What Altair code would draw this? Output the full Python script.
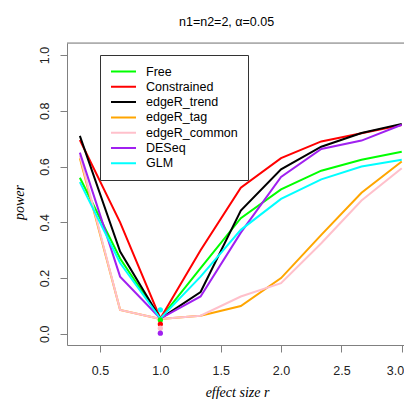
import altair as alt
import pandas as pd

# ---- data ----
effect_size = [1/3, 2/3, 1.0, 4/3, 5/3, 2.0, 7/3, 8/3, 3.0]
methods = ["Free", "Constrained", "edgeR_trend", "edgeR_tag", "edgeR_common", "DESeq", "GLM"]
method_colors = ["#00ff00", "#ff0000", "#000000", "#ffa500", "#ffc0cb", "#a020f0", "#00ffff"]

free         = [0.560, 0.270, 0.055, 0.236, 0.415, 0.518, 0.585, 0.624, 0.653]
constrained  = [0.695, 0.400, 0.055, 0.300, 0.524, 0.630, 0.690, 0.719, 0.749]
edger_trend  = [0.710, 0.295, 0.055, 0.150, 0.442, 0.590, 0.671, 0.720, 0.753]
edger_tag    = [0.630, 0.086, 0.053, 0.065, 0.100, 0.200, 0.355, 0.506, 0.618]
edger_common = [0.640, 0.086, 0.053, 0.065, 0.134, 0.182, 0.325, 0.478, 0.594]
deseq        = [0.650, 0.205, 0.055, 0.134, 0.363, 0.563, 0.663, 0.693, 0.750]
glm          = [0.544, 0.254, 0.055, 0.205, 0.373, 0.484, 0.554, 0.600, 0.624]
series = [free, constrained, edger_trend, edger_tag, edger_common, deseq, glm]

# type I error dots at r = 1
dot_methods = ["GLM", "Free", "Constrained", "edgeR_common", "DESeq"]
dot_values = [0.086, 0.050, 0.035, 0.020, 0.0025]
dot_r = [1.0, 1.0, 1.0, 1.0, 1.0]

x_ticks = [0.5, 1.0, 1.5, 2.0, 2.5, 3.0]
y_ticks = [0.0, 0.2, 0.4, 0.6, 0.8, 1.0]

rows = []
for m, vals in zip(methods, series):
    for i, (r, v) in enumerate(zip(effect_size, vals)):
        rows.append({"r": r, "power": v, "method": m, "ord": i})
df = pd.DataFrame(rows)
dots = pd.DataFrame({"r": dot_r, "power": dot_values, "method": dot_methods})

W, H = 337, 302
AXIS_GRAY = "#808080"

xscale = alt.Scale(domain=[0.22667, 0.22667 + W / 120.7], nice=False, zero=False)
yscale = alt.Scale(domain=[-0.04, 1.043], nice=False, zero=False)
cscale = alt.Scale(domain=methods, range=method_colors)

x_axis = alt.Axis(values=x_ticks, format=".1f", grid=False, tickSize=7,
                  labelPadding=12, labelFont="Liberation Sans", labelFontSize=12.5,
                  labelColor="#222", domainColor=AXIS_GRAY, tickColor=AXIS_GRAY,
                  labelFlush=10, labelFlushOffset=2,
                  title="effect size r", titleFont="Liberation Serif", titleFontSize=14,
                  titleFontStyle="italic", titleFontWeight="normal", titleColor="#000",
                  titleX=170, titleY=51, titleAlign="center", titleBaseline="alphabetic")
y_axis = alt.Axis(values=y_ticks, format=".1f", grid=False, tickSize=7,
                  labelAngle=270, labelAlign="center", labelBaseline="alphabetic",
                  labelPadding=12, labelFont="Liberation Sans", labelFontSize=12.5,
                  labelColor="#222", domainColor=AXIS_GRAY, tickColor=AXIS_GRAY,
                  title="power", titleFont="Liberation Serif", titleFontSize=14,
                  titleFontStyle="italic", titleFontWeight="normal", titleColor="#000",
                  titleAngle=270, titleX=-48, titleY=159, titleAlign="center",
                  titleBaseline="middle")

legend = alt.Legend(title=None, orient="none", legendX=33, legendY=12,
                    symbolType="stroke", symbolSize=625, symbolStrokeWidth=2,
                    clipHeight=13, rowPadding=2.3, padding=10, labelOffset=9,
                    labelFont="Liberation Sans", labelFontSize=12.5, labelColor="#000",
                    strokeColor="#333", fillColor="white")

lines = alt.Chart(df).mark_line(strokeWidth=2).encode(
    x=alt.X("r:Q", scale=xscale, axis=x_axis),
    y=alt.Y("power:Q", scale=yscale, axis=y_axis),
    color=alt.Color("method:N", scale=cscale, sort=methods, legend=legend),
    order="ord:Q",
)

points = alt.Chart(dots).mark_circle(size=28, opacity=1).encode(
    x=alt.X("r:Q", scale=xscale),
    y=alt.Y("power:Q", scale=yscale),
    color=alt.Color("method:N", scale=cscale, legend=None),
)

top_border = alt.Chart(pd.DataFrame({"a": [0]})).mark_rule(color=AXIS_GRAY, strokeWidth=1).encode(
    x=alt.value(0), x2=alt.value(W), y=alt.value(0)
)

chart = alt.layer(lines, points, top_border).properties(
    width=W, height=H,
    title=alt.TitleParams(text="n1=n2=2, α=0.05", anchor="start", frame="group", dx=112,
                          offset=4, baseline="alphabetic", font="Liberation Sans",
                          fontSize=12.5, fontWeight="normal", color="#000"),
    autosize=alt.AutoSizeParams(type="none"),
    padding={"left": 59, "top": 35, "right": 0, "bottom": 54},
).configure_view(stroke=None).configure(background="white")

chart.save("out.html", embed_options={"renderer": "svg", "actions": False})
